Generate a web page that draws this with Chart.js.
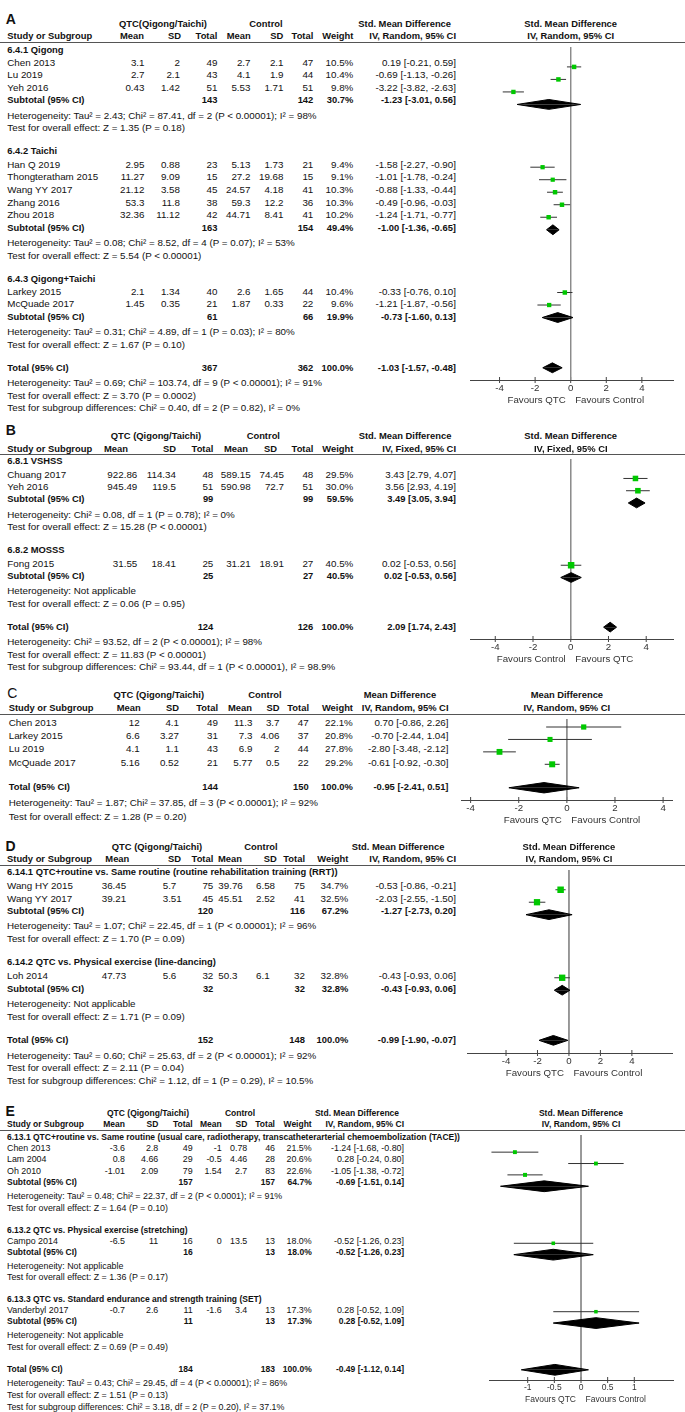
<!DOCTYPE html>
<html><head><meta charset="utf-8">
<script src="https://cdn.jsdelivr.net/npm/chart.js@4.4.0/dist/chart.umd.min.js"></script>
<style>
html,body{margin:0;padding:0;background:#fff;width:685px;height:1412px;overflow:hidden;}
#page{position:relative;width:685px;height:1412px;overflow:hidden;font-family:"Liberation Sans",Arial,Helvetica,sans-serif;color:#111;}
.t{position:absolute;white-space:nowrap;}
.hl{position:absolute;left:0;width:685px;height:1px;background:#555;}
canvas{position:absolute;}
</style></head><body><div id="page"></div>
<script>
// ================= DATA =================
// ---- Panel A ----
const A_groups = ["6.4.1 Qigong", "6.4.2 Taichi", "6.4.3 Qigong+Taichi"];
const A_group = [0, 0, 0, 1, 1, 1, 1, 1, 2, 2];
const A_study = ["Chen 2013", "Lu 2019", "Yeh 2016", "Han Q 2019", "Thongteratham 2015", "Wang YY 2017", "Zhang 2016", "Zhou 2018", "Larkey 2015", "McQuade 2017"];
const A_qMean = [3.1, 2.7, 0.43, 2.95, 11.27, 21.12, 53.3, 32.36, 2.1, 1.45];
const A_qSD = [2, 2.1, 1.42, 0.88, 9.09, 3.58, 11.8, 11.12, 1.34, 0.35];
const A_qN = [49, 43, 51, 23, 15, 45, 38, 42, 40, 21];
const A_cMean = [2.7, 4.1, 5.53, 5.13, 27.2, 24.57, 59.3, 44.71, 2.6, 1.87];
const A_cSD = [2.1, 1.9, 1.71, 1.73, 19.68, 4.18, 12.2, 8.41, 1.65, 0.33];
const A_cN = [47, 44, 51, 21, 15, 41, 36, 41, 44, 22];
const A_weight = [10.5, 10.4, 9.8, 9.4, 9.1, 10.3, 10.3, 10.2, 10.4, 9.6];
const A_est = [0.19, -0.69, -3.22, -1.58, -1.01, -0.88, -0.49, -1.24, -0.33, -1.21];
const A_lo = [-0.21, -1.13, -3.82, -2.27, -1.78, -1.33, -0.96, -1.71, -0.76, -1.87];
const A_hi = [0.59, -0.26, -2.63, -0.90, -0.24, -0.44, -0.03, -0.77, 0.10, -0.56];
const A_subQN = [143, 163, 61];
const A_subCN = [142, 154, 66];
const A_subW = [30.7, 49.4, 19.9];
const A_subEst = [-1.23, -1.00, -0.73];
const A_subLo = [-3.01, -1.36, -1.60];
const A_subHi = [0.56, -0.65, 0.13];
const A_subHet = ["Heterogeneity: Tau² = 2.43; Chi² = 87.41, df = 2 (P < 0.00001); I² = 98%",
  "Heterogeneity: Tau² = 0.08; Chi² = 8.52, df = 4 (P = 0.07); I² = 53%",
  "Heterogeneity: Tau² = 0.31; Chi² = 4.89, df = 1 (P = 0.03); I² = 80%"];
const A_subTest = ["Test for overall effect: Z = 1.35 (P = 0.18)", "Test for overall effect: Z = 5.54 (P < 0.00001)", "Test for overall effect: Z = 1.67 (P = 0.10)"];
const A_total = [367, 362, 100.0, -1.03, -1.57, -0.48];
const A_totNotes = ["Heterogeneity: Tau² = 0.69; Chi² = 103.74, df = 9 (P < 0.00001); I² = 91%",
  "Test for overall effect: Z = 3.70 (P = 0.0002)",
  "Test for subgroup differences: Chi² = 0.40, df = 2 (P = 0.82), I² = 0%"];
const A_header = ["QTC(Qigong/Taichi)", "Control", "Std. Mean Difference", "IV, Random, 95% CI"];
const A_ticks = [-4, -2, 0, 2, 4];
const A_favours = ["Favours QTC", "Favours Control"];

// ---- Panel B ----
const B_groups = ["6.8.1 VSHSS", "6.8.2 MOSSS"];
const B_group = [0, 0, 1];
const B_study = ["Chuang 2017", "Yeh 2016", "Fong 2015"];
const B_qMean = [922.86, 945.49, 31.55];
const B_qSD = [114.34, 119.5, 18.41];
const B_qN = [48, 51, 25];
const B_cMean = [589.15, 590.98, 31.21];
const B_cSD = [74.45, 72.7, 18.91];
const B_cN = [48, 51, 27];
const B_weight = [29.5, 30.0, 40.5];
const B_est = [3.43, 3.56, 0.02];
const B_lo = [2.79, 2.93, -0.53];
const B_hi = [4.07, 4.19, 0.56];
const B_subQN = [99, 25];
const B_subCN = [99, 27];
const B_subW = [59.5, 40.5];
const B_subEst = [3.49, 0.02];
const B_subLo = [3.05, -0.53];
const B_subHi = [3.94, 0.56];
const B_subHet = ["Heterogeneity: Chi² = 0.08, df = 1 (P = 0.78); I² = 0%", "Heterogeneity: Not applicable"];
const B_subTest = ["Test for overall effect: Z = 15.28 (P < 0.00001)", "Test for overall effect: Z = 0.06 (P = 0.95)"];
const B_total = [124, 126, 100.0, 2.09, 1.74, 2.43];
const B_totNotes = ["Heterogeneity: Chi² = 93.52, df = 2 (P < 0.00001); I² = 98%",
  "Test for overall effect: Z = 11.83 (P < 0.00001)",
  "Test for subgroup differences: Chi² = 93.44, df = 1 (P < 0.00001), I² = 98.9%"];
const B_header = ["QTC (Qigong/Taichi)", "Control", "Std. Mean Difference", "IV, Fixed, 95% CI"];
const B_ticks = [-4, -2, 0, 2, 4];
const B_favours = ["Favours Control", "Favours QTC"];

// ---- Panel C ----
const C_study = ["Chen 2013", "Larkey 2015", "Lu 2019", "McQuade 2017"];
const C_qMean = [12, 6.6, 4.1, 5.16];
const C_qSD = [4.1, 3.27, 1.1, 0.52];
const C_qN = [49, 31, 43, 21];
const C_cMean = [11.3, 7.3, 6.9, 5.77];
const C_cSD = [3.7, 4.06, 2, 0.5];
const C_cN = [47, 37, 44, 22];
const C_weight = [22.1, 20.8, 27.8, 29.2];
const C_est = [0.70, -0.70, -2.80, -0.61];
const C_lo = [-0.86, -2.44, -3.48, -0.92];
const C_hi = [2.26, 1.04, -2.12, -0.30];
const C_total = [144, 150, 100.0, -0.95, -2.41, 0.51];
const C_totNotes = ["Heterogeneity: Tau² = 1.87; Chi² = 37.85, df = 3 (P < 0.00001); I² = 92%",
  "Test for overall effect: Z = 1.28 (P = 0.20)"];
const C_header = ["QTC (Qigong/Taichi)", "Control", "Mean Difference", "IV, Random, 95% CI"];
const C_ticks = [-4, -2, 0, 2, 4];
const C_favours = ["Favours QTC", "Favours Control"];

// ---- Panel D ----
const D_groups = ["6.14.1 QTC+routine vs. Same routine (routine rehabilitation training (RRT))", "6.14.2 QTC vs. Physical exercise (line-dancing)"];
const D_group = [0, 0, 1];
const D_study = ["Wang HY 2015", "Wang YY 2017", "Loh 2014"];
const D_qMean = [36.45, 39.21, 47.73];
const D_qSD = [5.7, 3.51, 5.6];
const D_qN = [75, 45, 32];
const D_cMean = [39.76, 45.51, 50.3];
const D_cSD = [6.58, 2.52, 6.1];
const D_cN = [75, 41, 32];
const D_weight = [34.7, 32.5, 32.8];
const D_est = [-0.53, -2.03, -0.43];
const D_lo = [-0.86, -2.55, -0.93];
const D_hi = [-0.21, -1.50, 0.06];
const D_subQN = [120, 32];
const D_subCN = [116, 32];
const D_subW = [67.2, 32.8];
const D_subEst = [-1.27, -0.43];
const D_subLo = [-2.73, -0.93];
const D_subHi = [0.20, 0.06];
const D_subHet = ["Heterogeneity: Tau² = 1.07; Chi² = 22.45, df = 1 (P < 0.00001); I² = 96%", "Heterogeneity: Not applicable"];
const D_subTest = ["Test for overall effect: Z = 1.70 (P = 0.09)", "Test for overall effect: Z = 1.71 (P = 0.09)"];
const D_total = [152, 148, 100.0, -0.99, -1.90, -0.07];
const D_totNotes = ["Heterogeneity: Tau² = 0.60; Chi² = 25.63, df = 2 (P < 0.00001); I² = 92%",
  "Test for overall effect: Z = 2.11 (P = 0.04)",
  "Test for subgroup differences: Chi² = 1.12, df = 1 (P = 0.29), I² = 10.5%"];
const D_header = ["QTC (Qigong/Taichi)", "Control", "Std. Mean Difference", "IV, Random, 95% CI"];
const D_ticks = [-4, -2, 0, 2, 4];
const D_favours = ["Favours QTC", "Favours Control"];

// ---- Panel E ----
const E_groups = ["6.13.1 QTC+routine vs. Same routine (usual care, radiotherapy, transcatheterarterial chemoembolization (TACE))",
  "6.13.2 QTC vs. Physical exercise (stretching)",
  "6.13.3 QTC vs. Standard endurance and strength training (SET)"];
const E_group = [0, 0, 0, 1, 2];
const E_study = ["Chen 2013", "Lam 2004", "Oh 2010", "Campo 2014", "Vanderbyl 2017"];
const E_qMean = [-3.6, 0.8, -1.01, -6.5, -0.7];
const E_qSD = [2.8, 4.66, 2.09, 11, 2.6];
const E_qN = [49, 29, 79, 16, 11];
const E_cMean = [-1, -0.5, 1.54, 0, -1.6];
const E_cSD = [0.78, 4.46, 2.7, 13.5, 3.4];
const E_cN = [46, 28, 83, 13, 13];
const E_weight = [21.5, 20.6, 22.6, 18.0, 17.3];
const E_est = [-1.24, 0.28, -1.05, -0.52, 0.28];
const E_lo = [-1.68, -0.24, -1.38, -1.26, -0.52];
const E_hi = [-0.80, 0.80, -0.72, 0.23, 1.09];
const E_subQN = [157, 16, 11];
const E_subCN = [157, 13, 13];
const E_subW = [64.7, 18.0, 17.3];
const E_subEst = [-0.69, -0.52, 0.28];
const E_subLo = [-1.51, -1.26, -0.52];
const E_subHi = [0.14, 0.23, 1.09];
const E_subHet = ["Heterogeneity: Tau² = 0.48; Chi² = 22.37, df = 2 (P < 0.0001); I² = 91%", "Heterogeneity: Not applicable", "Heterogeneity: Not applicable"];
const E_subTest = ["Test for overall effect: Z = 1.64 (P = 0.10)", "Test for overall effect: Z = 1.36 (P = 0.17)", "Test for overall effect: Z = 0.69 (P = 0.49)"];
const E_total = [184, 183, 100.0, -0.49, -1.12, 0.14];
const E_totNotes = ["Heterogeneity: Tau² = 0.43; Chi² = 29.45, df = 4 (P < 0.00001); I² = 86%",
  "Test for overall effect: Z = 1.51 (P = 0.13)",
  "Test for subgroup differences: Chi² = 3.18, df = 2 (P = 0.20), I² = 37.1%"];
const E_header = ["QTC (Qigong/Taichi)", "Control", "Std. Mean Difference", "IV, Random, 95% CI"];
const E_ticks = [-1, -0.5, 0, 0.5, 1];
const E_favours = ["Favours QTC", "Favours Control"];

// ================= PANELS (built from the arrays) =================
const PANELS = [
  {label:"A", groups:A_groups, group:A_group, study:A_study, qMean:A_qMean, qSD:A_qSD, qN:A_qN, cMean:A_cMean, cSD:A_cSD, cN:A_cN, weight:A_weight, est:A_est, lo:A_lo, hi:A_hi,
   subQN:A_subQN, subCN:A_subCN, subW:A_subW, subEst:A_subEst, subLo:A_subLo, subHi:A_subHi, subHet:A_subHet, subTest:A_subTest, total:A_total, totNotes:A_totNotes, header:A_header, ticks:A_ticks, favours:A_favours},
  {label:"B", groups:B_groups, group:B_group, study:B_study, qMean:B_qMean, qSD:B_qSD, qN:B_qN, cMean:B_cMean, cSD:B_cSD, cN:B_cN, weight:B_weight, est:B_est, lo:B_lo, hi:B_hi,
   subQN:B_subQN, subCN:B_subCN, subW:B_subW, subEst:B_subEst, subLo:B_subLo, subHi:B_subHi, subHet:B_subHet, subTest:B_subTest, total:B_total, totNotes:B_totNotes, header:B_header, ticks:B_ticks, favours:B_favours},
  {label:"C", groups:null, study:C_study, qMean:C_qMean, qSD:C_qSD, qN:C_qN, cMean:C_cMean, cSD:C_cSD, cN:C_cN, weight:C_weight, est:C_est, lo:C_lo, hi:C_hi,
   total:C_total, totNotes:C_totNotes, header:C_header, ticks:C_ticks, favours:C_favours},
  {label:"D", groups:D_groups, group:D_group, study:D_study, qMean:D_qMean, qSD:D_qSD, qN:D_qN, cMean:D_cMean, cSD:D_cSD, cN:D_cN, weight:D_weight, est:D_est, lo:D_lo, hi:D_hi,
   subQN:D_subQN, subCN:D_subCN, subW:D_subW, subEst:D_subEst, subLo:D_subLo, subHi:D_subHi, subHet:D_subHet, subTest:D_subTest, total:D_total, totNotes:D_totNotes, header:D_header, ticks:D_ticks, favours:D_favours},
  {label:"E", groups:E_groups, group:E_group, study:E_study, qMean:E_qMean, qSD:E_qSD, qN:E_qN, cMean:E_cMean, cSD:E_cSD, cN:E_cN, weight:E_weight, est:E_est, lo:E_lo, hi:E_hi,
   subQN:E_subQN, subCN:E_subCN, subW:E_subW, subEst:E_subEst, subLo:E_subLo, subHi:E_subHi, subHet:E_subHet, subTest:E_subTest, total:E_total, totNotes:E_totNotes, header:E_header, ticks:E_ticks, favours:E_favours}
];

// ================= LAYOUT / STYLE =================
const R = (arr) => arr.map(x => [x, 'r']);
const STYLES = [
  {labelY:19, labelBold:true, line:42, h1y:23.5, h2y:36, nameX:7.3,
   h1x:[163, 266, 404.7], h2x:[144, 181, 217.3, 250.7, 283.3, 313.3, 353.3, 456],
   cols:R([144.5, 180, 217.5, 250.5, 283.5, 313.3, 353.3, 456]),
   headOff:7.5, first:12.7, row:12.7, subHet:15, hetLine:12.5, gap:23.5,
   axL:465, axR:678, xmin:-5.66, xmax:5.75, axisY:380, maxBox:4.5, dia:5},
  {labelY:430, labelBold:true, line:454, h1y:436, h2y:449, nameX:7.3,
   h1x:[156, 263.3, 405], h2x:[128, 176, 213.3, 248, 277, 313.3, 353.3, 456],
   cols:R([137.3, 176, 213.3, 250.7, 284, 313.3, 353.3, 456]),
   headOff:7, first:13, row:12.6, subHet:15, hetLine:12.5, gap:23.5,
   axL:465, axR:678, xmin:-5.34, xmax:5.42, axisY:639, maxBox:6.5, dia:5},
  {labelY:693, labelBold:false, line:714, h1y:695, h2y:708, nameX:8.7,
   h1x:[158.8, 265, 400], h2x:[140.6, 179, 218, 252, 279.5, 309, 353, 448.5],
   cols:R([139.7, 179, 218, 252.4, 279.5, 308.7, 352.8, 448.5]),
   first0:8.5, row:13.2, totGap:24.9, subHet:15.5, hetLine:13.5,
   axL:456, axR:677, xmin:-4.40, xmax:4.37, axisY:800, maxBox:6, dia:5.5},
  {labelY:845.5, labelBold:true, line:865, h1y:846.7, h2y:859, nameX:7,
   h1x:[157, 261, 398], h2x:[129.3, 181, 213.3, 242, 276.7, 305, 348.3, 456],
   cols:[[101.7,'l'], [162.7,'l'], [213.3,'r'], [218.3,'l'], [256,'l'], [305,'r'], [348.3,'r'], [456,'r']],
   headOff:7, first:13.3, row:12.8, subHet:15, hetLine:12.5, gap:24,
   axL:462, axR:677, xmin:-6.48, xmax:6.55, axisY:1053, maxBox:6.5, dia:5},
  {labelY:1111, labelBold:true, line:1130, h1y:1113, h2y:1124.5, nameX:7, fs:8.9, fb:8.5, tick:8.5,
   h1x:[148, 240, 357], h2x:[125, 158.3, 192.7, 221.7, 247.3, 275, 311.7, 404],
   cols:R([125, 158.3, 192.7, 221.7, 247.3, 275, 311.7, 404]),
   headOff:7, first:10.5, row:11.6, subHet:13.5, hetLine:11.7, gap:22.5,
   axL:484, axR:678, xmin:-1.726, xmax:1.726, axisY:1380, maxBox:4, dia:5.5}
];

const FONT = '"Liberation Sans", Arial, Helvetica, sans-serif';
const page = document.getElementById('page');
const num = v => String(v);
const pct = v => v.toFixed(1) + '%';
const ci = (e, l, h) => e.toFixed(2) + ' [' + l.toFixed(2) + ', ' + h.toFixed(2) + ']';

function mk(str, x, y, o) {
  const d = document.createElement('div');
  d.className = 't';
  d.textContent = str;
  const size = o.size, lh = Math.round(size * 1.3);
  d.style.fontSize = size + 'px';
  d.style.lineHeight = lh + 'px';
  d.style.height = lh + 'px';
  d.style.top = (y - lh / 2) + 'px';
  if (o.bold) d.style.fontWeight = 'bold';
  if (o.color) d.style.color = o.color;
  if (o.align === 'r') { d.style.left = (x - 400) + 'px'; d.style.width = '400px'; d.style.textAlign = 'right'; }
  else if (o.align === 'c') { d.style.left = (x - 300) + 'px'; d.style.width = '600px'; d.style.textAlign = 'center'; }
  else d.style.left = x + 'px';
  page.appendChild(d);
}

function renderPanel(P, S) {
  const fs = S.fs || 9.8, fb = S.fb || 9.4;
  const T = (s, x, y, o) => { o = o || {}; mk(s, x, y, Object.assign({size: o.bold ? fb : fs}, o)); };
  mk(P.label, S.nameX - 1.5, S.labelY, {size:14, bold:S.labelBold});
  const hl = document.createElement('div'); hl.className = 'hl'; hl.style.top = S.line + 'px'; page.appendChild(hl);
  T(P.header[0], S.h1x[0], S.h1y, {bold:true, align:'c'});
  T(P.header[1], S.h1x[1], S.h1y, {bold:true, align:'c'});
  T(P.header[2], S.h1x[2], S.h1y, {bold:true, align:'c'});
  T("Study or Subgroup", S.nameX, S.h2y, {bold:true});
  ["Mean", "SD", "Total", "Mean", "SD", "Total", "Weight", P.header[3]].forEach((h, k) => T(h, S.h2x[k], S.h2y, {bold:true, align:'r'}));

  const cell = (vals, y, bold) => vals.forEach((v, k) => { if (v === null) return; const c = S.cols[k]; T(v, c[0], y, {bold:bold, align:c[1]}); });
  const studyY = [], sums = [];
  const drawStudy = (i, y) => {
    T(P.study[i], S.nameX, y);
    cell([num(P.qMean[i]), num(P.qSD[i]), num(P.qN[i]), num(P.cMean[i]), num(P.cSD[i]), num(P.cN[i]), pct(P.weight[i]), ci(P.est[i], P.lo[i], P.hi[i])], y, false);
    studyY[i] = y;
  };
  let y;
  if (P.groups) {
    y = S.line + S.headOff;
    P.groups.forEach((g, gi) => {
      T(g, S.nameX, y, {bold:true});
      y += S.first;
      P.study.forEach((_, i) => { if (P.group[i] === gi) { drawStudy(i, y); y += S.row; } });
      T("Subtotal (95% CI)", S.nameX, y, {bold:true});
      cell([null, null, num(P.subQN[gi]), null, null, num(P.subCN[gi]), pct(P.subW[gi]), ci(P.subEst[gi], P.subLo[gi], P.subHi[gi])], y, true);
      sums.push({est:P.subEst[gi], lo:P.subLo[gi], hi:P.subHi[gi], y:y});
      y += S.subHet; T(P.subHet[gi], S.nameX, y);
      y += S.hetLine; T(P.subTest[gi], S.nameX, y);
      y += S.gap;
    });
  } else {
    y = S.line + S.first0;
    P.study.forEach((_, i) => { drawStudy(i, y); y += S.row; });
    y += S.totGap - S.row;
  }
  const tot = P.total;
  T("Total (95% CI)", S.nameX, y, {bold:true});
  cell([null, null, num(tot[0]), null, null, num(tot[1]), pct(tot[2]), ci(tot[3], tot[4], tot[5])], y, true);
  sums.push({est:tot[3], lo:tot[4], hi:tot[5], y:y});
  y += S.subHet;
  P.totNotes.forEach(n => { T(n, S.nameX, y); y += S.hetLine; });

  // ---- forest plot via Chart.js ----
  const cv = document.createElement('canvas');
  const AX_H = 20;
  const W = S.axR - S.axL, H = S.axisY - S.line + AX_H;
  cv.width = W; cv.height = H;
  cv.style.left = S.axL + 'px'; cv.style.top = S.line + 'px';
  cv.style.width = W + 'px'; cv.style.height = H + 'px';
  page.appendChild(cv);

  const datasets = [];
  // line of no effect, from the header rule down to the axis
  datasets.push({data:[{x:0, y:S.line}, {x:0, y:S.axisY}], showLine:true, borderColor:'#8c8c8c', borderWidth:1, pointRadius:0, order:4});
  // tick marks crossing the axis line
  datasets.push({data:P.ticks.map(v => ({x:v, y:S.axisY})), showLine:false, pointStyle:'line', rotation:90, pointRadius:3,
                 borderColor:'#444', borderWidth:1, clip:false, order:5});
  P.study.forEach((_, i) => datasets.push({
    data:[{x:P.lo[i], y:studyY[i]}, {x:P.hi[i], y:studyY[i]}],
    showLine:true, borderColor:'#333', borderWidth:1, pointRadius:0, order:2
  }));
  const wmax = Math.max.apply(null, P.weight);
  datasets.push({
    data:P.study.map((_, i) => ({x:P.est[i], y:studyY[i]})),
    showLine:false, pointStyle:'rect',
    pointRadius:P.weight.map(w => S.maxBox * Math.sqrt(w / wmax) / Math.SQRT2),
    backgroundColor:'#00c800', borderColor:'#00c800', borderWidth:0, order:0
  });
  sums.forEach(r => {
    [-1, 1].forEach(sg => datasets.push({
      data:[{x:r.lo, y:r.y}, {x:r.est, y:r.y + sg * S.dia}, {x:r.hi, y:r.y}],
      showLine:true, fill:{value:r.y}, backgroundColor:'#000', borderColor:'#000', borderWidth:1, pointRadius:0, order:1
    }));
  });

  const chart = new Chart(cv, {
    type:'scatter',
    data:{datasets:datasets},
    options:{
      responsive:false, animation:false, events:[],
      layout:{padding:0},
      plugins:{legend:{display:false}, tooltip:{enabled:false}},
      scales:{
        x:{type:'linear', min:S.xmin, max:S.xmax,
           afterBuildTicks:s => { s.ticks = P.ticks.map(v => ({value:v})); },
           afterFit:s => { s.height = AX_H; },
           ticks:{font:{family:FONT, size:S.tick || 9.7}, color:'#333', padding:3, autoSkip:false, maxRotation:0,
                  callback:v => String(v)},
           grid:{color:'rgba(0,0,0,0)', lineWidth:1, drawTicks:false},
           border:{display:true, color:'#444', width:1}},
        y:{type:'linear', display:false, min:S.line, max:S.axisY, reverse:true}
      }
    }
  });
  const zx = S.axL + chart.scales.x.getPixelForValue(0);
  T(P.header[2], zx, S.h1y, {bold:true, align:'c'});
  T(P.header[3], zx, S.h2y, {bold:true, align:'c'});
  const fz = S.tick || 9.7;
  mk(P.favours[0], zx - 5, S.axisY + 19, {size:fz, align:'r', color:'#333'});
  mk(P.favours[1], zx + 4.5, S.axisY + 19, {size:fz, color:'#333'});
}

PANELS.forEach((P, k) => renderPanel(P, STYLES[k]));
</script></body></html>
